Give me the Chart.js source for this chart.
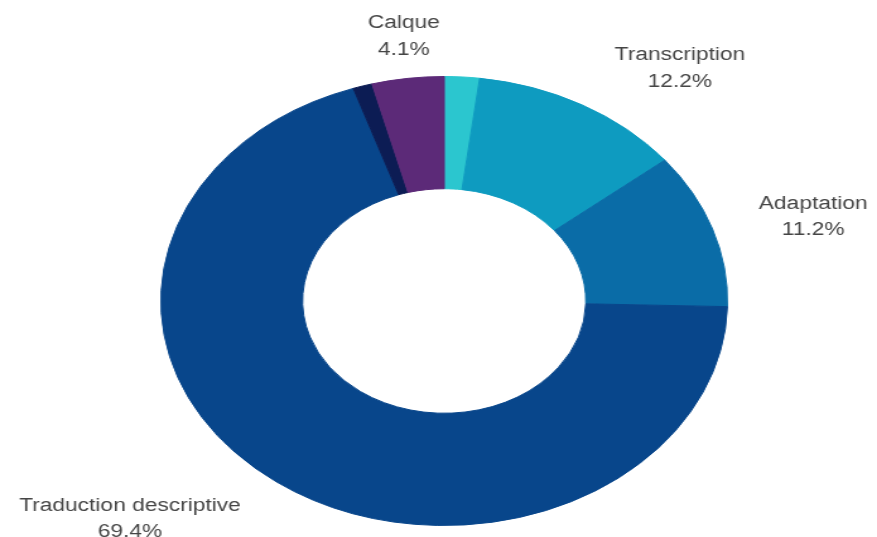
<!DOCTYPE html>
<html>
<head>
<meta charset="utf-8">
<title>Procédés de traduction</title>
<script src="https://cdn.jsdelivr.net/npm/chart.js@4.4.1/dist/chart.umd.min.js"></script>
<style>
  html, body { margin: 0; padding: 0; background: #ffffff; overflow: hidden; }
  #grafico {
    display: block;
    transform: scaleX(1.2619);
    transform-origin: 0 0;
  }
</style>
</head>
<body>
<canvas id="grafico" width="695" height="537"></canvas>
<script>
// Parts par procédé, en pourcentage (les deux petites tranches n'ont pas d'étiquette)
const categories = ['', 'Transcription', 'Adaptation', 'Traduction descriptive', '', 'Calque'];
const valeurs = [2.0, 12.2, 11.2, 69.4, 1.1, 4.1];
const couleurs = ['#2bc6cf', '#0e9bc0', '#0a6ca7', '#08468b', '#0c1c54', '#5c2a78'];

const TAILLE_TEXTE = 18;
const INTERLIGNE = 26.5;

// 🏷️ Étiquettes à l'extérieur de l'anneau : nom + pourcentage
const etiquettesExterieures = {
  id: 'etiquettesExterieures',
  afterDraw(chart) {
    const ctx = chart.ctx;
    const data = chart.data.datasets[0].data;
    const total = data.reduce((a, b) => a + b, 0);

    ctx.save();
    ctx.font = `${TAILLE_TEXTE}px "Liberation Sans", Arial, sans-serif`;
    ctx.fillStyle = '#454545';
    ctx.textAlign = 'center';
    ctx.textBaseline = 'middle';

    chart.getDatasetMeta(0).data.forEach((arc, i) => {
      const nom = chart.data.labels[i];
      if (!nom) return;

      const pct = (data[i] / total * 100).toFixed(1) + '%';
      const milieu = (arc.startAngle + arc.endAngle) / 2;
      const dx = Math.cos(milieu);
      const dy = Math.sin(milieu);

      const w = Math.max(ctx.measureText(nom).width, ctx.measureText(pct).width);
      const demiH = 20;

      // point d'ancrage juste au-delà du bord extérieur
      const r = arc.outerRadius + 24;
      const ax = arc.x + r * dx;
      const ay = arc.y + r * dy;

      // près du haut/bas : centré ; sur les côtés : poussé vers l'extérieur
      const t = Math.max(0, Math.min(1, (Math.abs(dx) - 0.15) / 0.3));
      const x = ax + Math.sign(dx) * t * (w / 2 + 14);
      const y = ay + dy * demiH + 2;

      ctx.fillText(nom, x, y - INTERLIGNE / 2);
      ctx.fillText(pct, x, y + INTERLIGNE / 2);
    });

    ctx.restore();
  }
};

const ctx = document.getElementById('grafico').getContext('2d');

new Chart(ctx, {
  type: 'doughnut',
  data: {
    labels: categories,
    datasets: [{
      data: valeurs,
      backgroundColor: couleurs,
      borderColor: couleurs,
      borderWidth: 1
    }]
  },
  options: {
    responsive: false,
    animation: false,
    cutout: '50%',
    layout: {
      padding: { top: 76, bottom: 11, left: 127, right: 118 }
    },
    plugins: {
      legend: { display: false },
      tooltip: { enabled: false }
    }
  },
  plugins: [etiquettesExterieures]
});
</script>
</body>
</html>
